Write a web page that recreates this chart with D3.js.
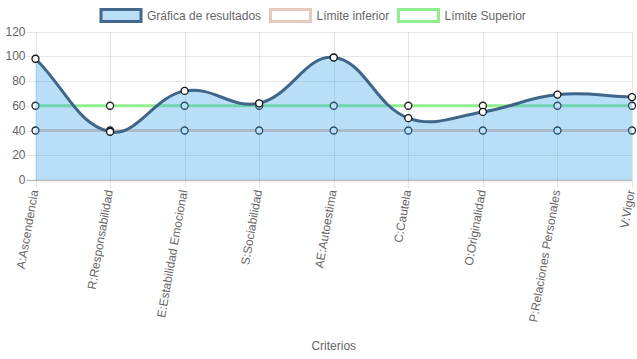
<!DOCTYPE html>
<html><head><meta charset="utf-8">
<script src="https://cdn.jsdelivr.net/npm/d3@7"></script>
<style>body{margin:0;background:#fff}svg{display:block}text{font-family:"Liberation Sans",Arial,Helvetica,sans-serif}</style>
</head><body><svg id="c" width="637" height="359"></svg>
<script>
const categories = ["A:Ascendencia","R:Responsabilidad","E:Estabilidad Emocional","S:Sociabilidad","AE:Autoestima","C:Cautela","O:Originalidad","P:Relaciones Personales","V:Vigor"];
const resultados = [98, 39, 72, 62, 99, 50, 55, 69, 67];
const limiteInferior = [40, 40, 40, 40, 40, 40, 40, 40, 40];
const limiteSuperior = [60, 60, 60, 60, 60, 60, 60, 60, 60];
const yTicks = [0, 20, 40, 60, 80, 100, 120];
const legendLabels = ["Gráfica de resultados", "Límite inferior", "Límite Superior"];
const axisTitle = "Criterios";

(function () {
const svg = d3.select("#c");
const pLeft = 35.5, pRight = 632, pTop = 31.5, pBottom = 180;
const x = d3.scalePoint().domain(categories).range([pLeft, pRight]);
const y = d3.scaleLinear().domain([0, 120]).range([pBottom, pTop]);
const grid = "rgba(0,0,0,0.1)";

const g = svg.append("g");
yTicks.forEach(t => {
  g.append("line").attr("x1", pLeft - 9).attr("x2", pRight).attr("y1", Math.round(y(t)) + 0.5).attr("y2", Math.round(y(t)) + 0.5)
    .attr("stroke", t === 0 ? "rgba(0,0,0,0.25)" : grid).attr("stroke-width", t === 0 ? 1.5 : 1);
  g.append("text").attr("x", pLeft - 10).attr("y", y(t)).attr("text-anchor", "end").attr("dominant-baseline", "central")
    .attr("font-size", 12).attr("fill", "#666").text(t);
});
categories.forEach(c => {
  g.append("line").attr("x1", Math.round(x(c)) + 0.5).attr("x2", Math.round(x(c)) + 0.5).attr("y1", pTop).attr("y2", pBottom + 8)
    .attr("stroke", grid);
  g.append("text").attr("transform", `translate(${x(c) - 1},${pBottom + 10}) rotate(-80)`)
    .attr("text-anchor", "end").attr("dominant-baseline", "central").attr("font-size", 12).attr("fill", "#666").text(c);
});
svg.append("text").attr("x", (pLeft + pRight) / 2).attr("y", 350).attr("text-anchor", "middle")
  .attr("font-size", 12).attr("fill", "#666").text(axisTitle);

function splinePath(vals) {
  const pts = vals.map((v, i) => ({x: x(categories[i]), y: y(v)}));
  const t = 0.4;
  const cap = v => Math.max(pTop, Math.min(pBottom, v));
  const cps = pts.map((p, i) => {
    const p0 = pts[i - 1] || p, p2 = pts[i + 1] || p;
    const d01 = Math.hypot(p.x - p0.x, p.y - p0.y), d12 = Math.hypot(p2.x - p.x, p2.y - p.y);
    let s01 = d01 / (d01 + d12), s12 = d12 / (d01 + d12);
    if (isNaN(s01)) s01 = 0; if (isNaN(s12)) s12 = 0;
    const fa = t * s01, fb = t * s12;
    return {
      px: p.x - fa * (p2.x - p0.x), py: cap(p.y - fa * (p2.y - p0.y)),
      nx: p.x + fb * (p2.x - p0.x), ny: cap(p.y + fb * (p2.y - p0.y))
    };
  });
  let d = `M${pts[0].x},${pts[0].y}`;
  for (let i = 1; i < pts.length; i++) {
    d += `C${cps[i - 1].nx},${cps[i - 1].ny},${cps[i].px},${cps[i].py},${pts[i].x},${pts[i].y}`;
  }
  return d;
}
const straight = d3.line().x((d, i) => x(categories[i])).y(d => y(d));

function limitSeries(vals, color) {
  svg.append("path").attr("d", straight(vals)).attr("fill", "none").attr("stroke", color).attr("stroke-width", 3);
  svg.append("g").selectAll("circle").data(vals).join("circle")
    .attr("cx", (d, i) => x(categories[i])).attr("cy", d => y(d)).attr("r", 3.5)
    .attr("fill", "#fff").attr("stroke", "#222").attr("stroke-width", 1.3);
}
limitSeries(limiteSuperior, "#90ee90");
limitSeries(limiteInferior, "#e6c8bc");

const lineD = splinePath(resultados);
svg.append("path").attr("d", lineD + `L${x(categories[categories.length - 1])},${y(0)}L${x(categories[0])},${y(0)}Z`)
  .attr("fill", "rgba(54,162,235,0.35)");
svg.append("path").attr("d", lineD).attr("fill", "none").attr("stroke", "#3f6589").attr("stroke-width", 3);
svg.append("g").selectAll("circle").data(resultados).join("circle")
  .attr("cx", (d, i) => x(categories[i])).attr("cy", d => y(d)).attr("r", 3.5)
  .attr("fill", "#fff").attr("stroke", "#111").attr("stroke-width", 1.3);

const legend = [
  {label: legendLabels[0], x: 101, fill: "rgba(54,162,235,0.35)", stroke: "#45698c"},
  {label: legendLabels[1], x: 270.5, fill: "#fff", stroke: "#e6c8bc"},
  {label: legendLabels[2], x: 398.5, fill: "#fff", stroke: "#90ee90"}
];
legend.forEach(l => {
  svg.append("rect").attr("x", l.x).attr("y", 9.5).attr("width", 40).attr("height", 12)
    .attr("fill", l.fill).attr("stroke", l.stroke).attr("stroke-width", 3);
  svg.append("text").attr("x", l.x + 46).attr("y", 16).attr("dominant-baseline", "central")
    .attr("font-size", 12).attr("fill", "#666").text(l.label);
});
})();
</script></body></html>
